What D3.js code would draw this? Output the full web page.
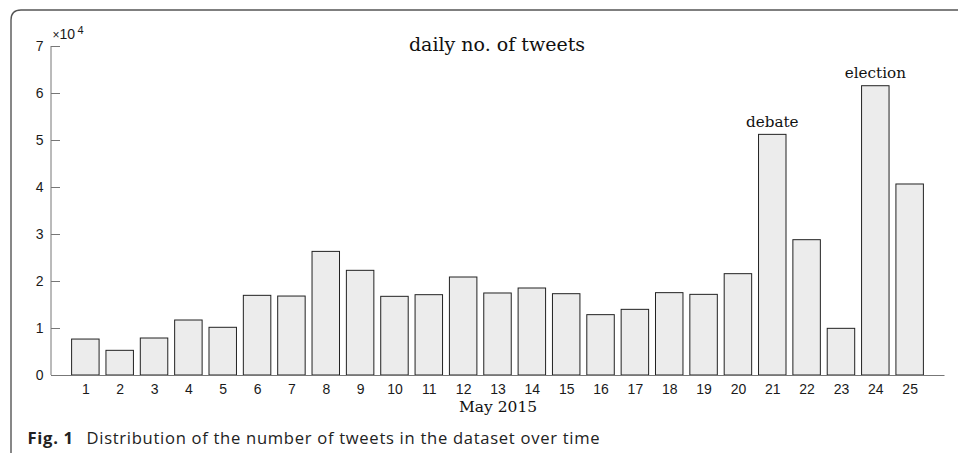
<!DOCTYPE html>
<html>
<head>
<meta charset="utf-8">
<script src="https://cdn.jsdelivr.net/npm/d3@7"></script>
<style>
  html, body { margin: 0; padding: 0; background: #fff; }
  svg { display: block; }
</style>
</head>
<body>
<svg id="chart" width="958" height="453"></svg>
<script>
// Daily tweet counts, 1–25 May 2015
const days = [1,2,3,4,5,6,7,8,9,10,11,12,13,14,15,16,17,18,19,20,21,22,23,24,25];
const tweets = [7650, 5250, 7870, 11700, 10150, 16950, 16800, 26300, 22270, 16740,
                17090, 20850, 17450, 18510, 17300, 12840, 13970, 17520, 17160, 21560,
                51200, 28790, 9930, 61550, 40640];
const yTicks = [0, 1, 2, 3, 4, 5, 6, 7];           // in units of 10^4
const events = [{ day: 21, label: "debate" }, { day: 24, label: "election" }];

const svg = d3.select("#chart");
const plotLeft = 51, plotRight = 944, plotTop = 46, plotBottom = 375;

const x = d3.scaleLinear().domain([0, 26]).range([plotLeft, plotRight]);
const y = d3.scaleLinear().domain([0, 70000]).range([plotBottom, plotTop]);
const barW = (x(1) - x(0)) * 0.8;

const sans = "Liberation Sans, Arial, sans-serif";
const serif = "DejaVu Serif, serif";

// caption frame with a rounded top-left corner
svg.append("path")
  .attr("d", `M11,453 L11,20 Q11,10 21,10 L958,10`)
  .attr("fill", "none").attr("stroke", "#555").attr("stroke-width", 1.4);

// bars
svg.append("g").selectAll("rect").data(days).join("rect")
  .attr("x", (d) => x(d) - barW / 2)
  .attr("y", (d, i) => y(tweets[i]))
  .attr("width", barW)
  .attr("height", (d, i) => y(0) - y(tweets[i]))
  .attr("fill", "#ececec").attr("stroke", "#222").attr("stroke-width", 1);

// y axis (ticks pointing inward)
const yAxis = d3.axisRight(y)
  .tickValues(yTicks.map(v => v * 1e4))
  .tickSize(9)
  .tickFormat("");
const yg = svg.append("g").attr("transform", `translate(${plotLeft},0)`).call(yAxis);
yg.select(".domain").attr("d", `M0,${y(0)}V${y(70000)}`).attr("stroke", "#777");
yg.selectAll(".tick line").attr("stroke", "#777");
svg.append("g").selectAll("text").data(yTicks).join("text")
  .attr("x", plotLeft - 7.5).attr("y", d => y(d * 1e4) + 4.8)
  .attr("text-anchor", "end")
  .attr("font-family", sans)
  .attr("font-size", 14).attr("fill", "#1a1a1a")
  .text(d => d);

// x axis baseline and day labels
const xAxis = d3.axisBottom(x).tickValues(days).tickSize(0).tickPadding(9);
const xg = svg.append("g").attr("transform", `translate(0,${plotBottom})`).call(xAxis);
xg.select(".domain").attr("stroke", "#777");
xg.selectAll("text")
  .attr("font-family", sans)
  .attr("font-size", 14).attr("fill", "#1a1a1a");

// exponent marker
const expo = svg.append("text")
  .attr("x", plotLeft + 1.5).attr("y", 39)
  .attr("font-family", sans)
  .attr("fill", "#1a1a1a");
expo.append("tspan").attr("font-size", 12).text("×");
expo.append("tspan").attr("font-size", 14).text("10");
expo.append("tspan").attr("font-size", 11).attr("dx", 2.5).attr("dy", -5).text("4");

// title and axis label
svg.append("text")
  .attr("x", 497).attr("y", 51).attr("text-anchor", "middle")
  .attr("font-family", serif).attr("font-size", 19).attr("fill", "#111")
  .text("daily no. of tweets");
svg.append("text")
  .attr("x", 498).attr("y", 412).attr("text-anchor", "middle")
  .attr("font-family", serif).attr("font-size", 15.5).attr("fill", "#111")
  .text("May 2015");

// event annotations above the bars
svg.append("g").selectAll("text").data(events).join("text")
  .attr("x", d => x(d.day))
  .attr("y", d => y(tweets[days.indexOf(d.day)]) - 7.5)
  .attr("text-anchor", "middle")
  .attr("font-family", serif).attr("font-size", 15.2).attr("fill", "#111")
  .text(d => d.label);

// figure caption
const cap = svg.append("text")
  .attr("x", 27.5).attr("y", 443.5)
  .attr("font-family", "Open Sans, Noto Sans, sans-serif")
  .attr("font-size", 16.6).attr("letter-spacing", 0.7).attr("fill", "#222");
cap.append("tspan").attr("font-weight", "bold").text("Fig. 1");
cap.append("tspan").attr("x", 86.5).text("Distribution of the number of tweets in the dataset over time");
</script>
</body>
</html>
